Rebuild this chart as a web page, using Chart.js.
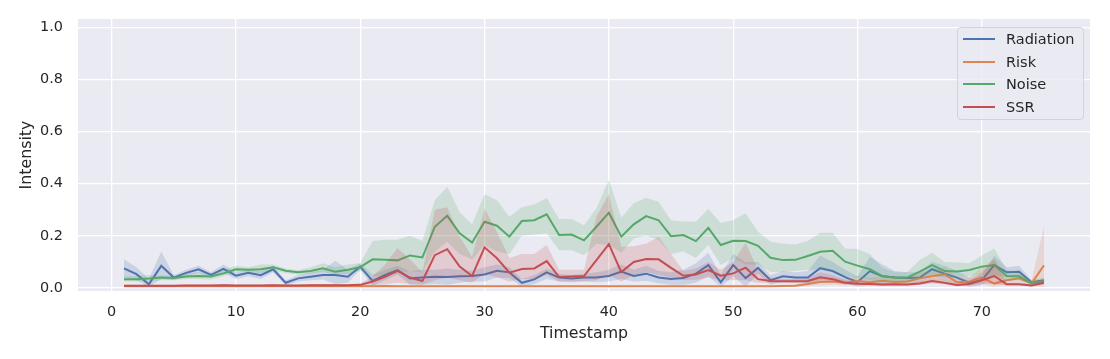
<!DOCTYPE html>
<html>
<head>
<meta charset="utf-8">
<script src="https://cdn.jsdelivr.net/npm/chart.js@4.4.1/dist/chart.umd.min.js"></script>
<style>
    body { margin: 0; background: #ffffff; }
    #wrap { position: relative; width: 1110px; height: 359px; }
    #legend {
        position: absolute;
        left: 957px;
        top: 27px;
        width: 127px;
        height: 93px;
        box-sizing: border-box;
        border: 1px solid #d2d2d8;
        border-radius: 4px;
        background: rgba(234, 234, 242, 0.8);
        font-family: "DejaVu Sans", sans-serif;
        font-size: 14.5px;
        color: #262626;
    }
    .item { position: absolute; left: 0; height: 20px; line-height: 20px; }
    .swatch { position: absolute; left: 5px; top: 9px; width: 32px; height: 2px; }
    .label { position: absolute; left: 48px; top: 0; white-space: nowrap; }
</style>
</head>
<body>
<div id="wrap">
    <canvas id="chart" width="1110" height="359"></canvas>
    <div id="legend"></div>
</div>
<script>
const timestamps = [
    1, 2, 3, 4, 5, 6, 7, 8, 9, 10, 11, 12, 13, 14, 15, 16, 17, 18, 19, 20,
    21, 22, 23, 24, 25, 26, 27, 28, 29, 30, 31, 32, 33, 34, 35, 36, 37, 38, 39, 40,
    41, 42, 43, 44, 45, 46, 47, 48, 49, 50, 51, 52, 53, 54, 55, 56, 57, 58, 59, 60,
    61, 62, 63, 64, 65, 66, 67, 68, 69, 70, 71, 72, 73, 74, 75,
];

const radiation = [
    0.075, 0.053, 0.014, 0.085, 0.040, 0.058, 0.072, 0.050, 0.073, 0.047,
    0.058, 0.049, 0.072, 0.020, 0.037, 0.043, 0.050, 0.050, 0.043, 0.082,
    0.027, 0.050, 0.069, 0.037, 0.040, 0.043, 0.042, 0.045, 0.046, 0.052,
    0.066, 0.060, 0.020, 0.033, 0.060, 0.040, 0.036, 0.040, 0.040, 0.046,
    0.063, 0.046, 0.055, 0.040, 0.035, 0.038, 0.055, 0.088, 0.022, 0.088,
    0.038, 0.077, 0.030, 0.045, 0.040, 0.040, 0.076, 0.065, 0.042, 0.023,
    0.065, 0.045, 0.040, 0.038, 0.040, 0.072, 0.055, 0.040, 0.020, 0.030,
    0.088, 0.060, 0.062, 0.022, 0.030,
];
const radiationLow = [
    0.040, 0.030, 0.004, 0.035, 0.030, 0.045, 0.058, 0.040, 0.058, 0.035,
    0.045, 0.035, 0.060, 0.010, 0.025, 0.030, 0.033, 0.015, 0.020, 0.070,
    0.008, 0.030, 0.052, 0.012, 0.012, 0.015, 0.012, 0.020, 0.025, 0.025,
    0.040, 0.038, 0.005, 0.015, 0.035, 0.025, 0.022, 0.025, 0.022, 0.025,
    0.035, 0.025, 0.028, 0.018, 0.012, 0.012, 0.020, 0.045, 0.005, 0.045,
    0.005, 0.055, 0.012, 0.025, 0.022, 0.018, 0.030, 0.035, 0.018, 0.005,
    0.012, 0.010, 0.018, 0.020, 0.022, 0.045, 0.028, 0.020, 0.005, 0.010,
    0.050, 0.040, 0.040, 0.015, 0.020,
];
const radiationHigh = [
    0.110, 0.080, 0.035, 0.140, 0.050, 0.070, 0.085, 0.060, 0.090, 0.060,
    0.070, 0.065, 0.085, 0.030, 0.050, 0.060, 0.070, 0.105, 0.070, 0.095,
    0.050, 0.070, 0.085, 0.065, 0.070, 0.070, 0.075, 0.070, 0.065, 0.080,
    0.090, 0.080, 0.035, 0.050, 0.075, 0.055, 0.050, 0.055, 0.060, 0.070,
    0.090, 0.070, 0.085, 0.065, 0.060, 0.070, 0.095, 0.135, 0.050, 0.130,
    0.100, 0.100, 0.050, 0.065, 0.060, 0.065, 0.125, 0.100, 0.070, 0.045,
    0.120, 0.090, 0.065, 0.060, 0.060, 0.100, 0.085, 0.065, 0.040, 0.050,
    0.125, 0.080, 0.085, 0.030, 0.040,
];

const risk = [
    0.007, 0.007, 0.007, 0.007, 0.007, 0.007, 0.007, 0.007, 0.008, 0.007,
    0.007, 0.007, 0.007, 0.007, 0.007, 0.007, 0.008, 0.007, 0.007, 0.007,
    0.007, 0.008, 0.007, 0.007, 0.007, 0.007, 0.007, 0.007, 0.007, 0.007,
    0.007, 0.007, 0.007, 0.007, 0.007, 0.007, 0.007, 0.007, 0.007, 0.007,
    0.007, 0.007, 0.007, 0.007, 0.007, 0.007, 0.007, 0.007, 0.007, 0.007,
    0.007, 0.007, 0.007, 0.008, 0.009, 0.015, 0.023, 0.025, 0.020, 0.027,
    0.022, 0.028, 0.023, 0.025, 0.037, 0.045, 0.053, 0.022, 0.025, 0.040,
    0.017, 0.030, 0.037, 0.018, 0.087,
];
const riskLow = [
    0.004, 0.004, 0.004, 0.004, 0.004, 0.004, 0.004, 0.004, 0.004, 0.004,
    0.004, 0.004, 0.004, 0.004, 0.004, 0.004, 0.004, 0.004, 0.004, 0.004,
    0.004, 0.004, 0.004, 0.004, 0.004, 0.004, 0.004, 0.004, 0.004, 0.004,
    0.004, 0.004, 0.004, 0.004, 0.004, 0.004, 0.004, 0.004, 0.004, 0.004,
    0.004, 0.004, 0.004, 0.004, 0.004, 0.004, 0.004, 0.004, 0.004, 0.004,
    0.004, 0.004, 0.004, 0.004, 0.005, 0.008, 0.010, 0.012, 0.010, 0.012,
    0.010, 0.013, 0.010, 0.012, 0.018, 0.025, 0.030, 0.010, 0.012, 0.015,
    0.005, 0.012, 0.020, 0.008, 0.005,
];
const riskHigh = [
    0.010, 0.010, 0.010, 0.010, 0.010, 0.010, 0.010, 0.010, 0.012, 0.010,
    0.010, 0.010, 0.010, 0.010, 0.010, 0.010, 0.012, 0.010, 0.010, 0.010,
    0.010, 0.013, 0.010, 0.010, 0.010, 0.010, 0.010, 0.010, 0.010, 0.010,
    0.010, 0.010, 0.010, 0.010, 0.010, 0.010, 0.010, 0.010, 0.010, 0.010,
    0.010, 0.010, 0.010, 0.010, 0.010, 0.010, 0.010, 0.010, 0.010, 0.010,
    0.010, 0.010, 0.010, 0.012, 0.014, 0.025, 0.040, 0.040, 0.035, 0.045,
    0.040, 0.045, 0.040, 0.040, 0.060, 0.065, 0.080, 0.040, 0.040, 0.080,
    0.110, 0.050, 0.055, 0.030, 0.237,
];

const noise = [
    0.034, 0.034, 0.036, 0.040, 0.038, 0.044, 0.046, 0.044, 0.056, 0.072,
    0.070, 0.072, 0.080, 0.066, 0.060, 0.065, 0.076, 0.062, 0.070, 0.080,
    0.110, 0.108, 0.106, 0.125, 0.117, 0.235, 0.277, 0.210, 0.174, 0.254,
    0.239, 0.197, 0.257, 0.260, 0.283, 0.203, 0.205, 0.183, 0.235, 0.289,
    0.197, 0.244, 0.276, 0.260, 0.199, 0.203, 0.180, 0.231, 0.165, 0.181,
    0.180, 0.162, 0.116, 0.107, 0.108, 0.123, 0.139, 0.143, 0.101, 0.086,
    0.072, 0.046, 0.040, 0.040, 0.063, 0.088, 0.065, 0.063, 0.069, 0.082,
    0.088, 0.046, 0.045, 0.018, 0.027,
];
const noiseLow = [
    0.025, 0.025, 0.028, 0.030, 0.030, 0.035, 0.035, 0.033, 0.045, 0.060,
    0.060, 0.058, 0.068, 0.057, 0.052, 0.055, 0.062, 0.050, 0.055, 0.065,
    0.045, 0.050, 0.055, 0.065, 0.060, 0.139, 0.177, 0.130, 0.110, 0.165,
    0.140, 0.130, 0.200, 0.205, 0.210, 0.145, 0.145, 0.126, 0.170, 0.165,
    0.135, 0.190, 0.200, 0.185, 0.130, 0.140, 0.115, 0.165, 0.088, 0.115,
    0.090, 0.090, 0.060, 0.062, 0.065, 0.070, 0.070, 0.065, 0.045, 0.040,
    0.030, 0.025, 0.025, 0.025, 0.035, 0.050, 0.040, 0.040, 0.045, 0.050,
    0.040, 0.028, 0.030, 0.012, 0.020,
];
const noiseHigh = [
    0.045, 0.045, 0.050, 0.048, 0.045, 0.055, 0.060, 0.055, 0.070, 0.085,
    0.080, 0.090, 0.090, 0.075, 0.068, 0.080, 0.095, 0.080, 0.090, 0.095,
    0.180, 0.185, 0.185, 0.200, 0.180, 0.337, 0.388, 0.292, 0.245, 0.360,
    0.337, 0.273, 0.310, 0.320, 0.345, 0.265, 0.265, 0.241, 0.306, 0.414,
    0.270, 0.325, 0.346, 0.331, 0.260, 0.255, 0.255, 0.303, 0.249, 0.260,
    0.287, 0.216, 0.177, 0.170, 0.167, 0.180, 0.212, 0.212, 0.152, 0.150,
    0.130, 0.077, 0.060, 0.060, 0.107, 0.135, 0.100, 0.098, 0.095, 0.125,
    0.152, 0.070, 0.060, 0.022, 0.032,
];

const ssr = [
    0.009, 0.009, 0.009, 0.009, 0.009, 0.010, 0.010, 0.010, 0.011, 0.010,
    0.010, 0.010, 0.011, 0.010, 0.010, 0.011, 0.011, 0.011, 0.011, 0.012,
    0.025, 0.043, 0.066, 0.040, 0.027, 0.126, 0.149, 0.082, 0.046, 0.156,
    0.114, 0.059, 0.073, 0.075, 0.103, 0.042, 0.044, 0.046, 0.107, 0.168,
    0.061, 0.100, 0.111, 0.110, 0.077, 0.047, 0.052, 0.069, 0.047, 0.056,
    0.078, 0.034, 0.027, 0.026, 0.026, 0.027, 0.041, 0.034, 0.020, 0.016,
    0.015, 0.013, 0.014, 0.013, 0.017, 0.027, 0.020, 0.012, 0.015, 0.030,
    0.046, 0.014, 0.014, 0.010, 0.020,
];
const ssrLow = [
    0.006, 0.006, 0.006, 0.006, 0.006, 0.007, 0.007, 0.007, 0.007, 0.007,
    0.007, 0.007, 0.007, 0.007, 0.007, 0.007, 0.007, 0.007, 0.007, 0.008,
    0.010, 0.015, 0.020, 0.015, 0.012, 0.030, 0.040, 0.030, 0.020, 0.055,
    0.040, 0.025, 0.035, 0.035, 0.050, 0.025, 0.025, 0.027, 0.030, 0.050,
    0.025, 0.050, 0.060, 0.050, 0.040, 0.030, 0.032, 0.040, 0.030, 0.030,
    0.030, 0.020, 0.018, 0.018, 0.018, 0.018, 0.025, 0.022, 0.013, 0.010,
    0.010, 0.008, 0.010, 0.009, 0.012, 0.017, 0.013, 0.007, 0.009, 0.015,
    0.015, 0.009, 0.009, 0.006, 0.012,
];
const ssrHigh = [
    0.012, 0.012, 0.012, 0.012, 0.012, 0.013, 0.013, 0.013, 0.015, 0.013,
    0.013, 0.013, 0.015, 0.013, 0.013, 0.015, 0.015, 0.015, 0.015, 0.016,
    0.045, 0.090, 0.153, 0.110, 0.060, 0.300, 0.310, 0.197, 0.120, 0.305,
    0.216, 0.115, 0.130, 0.130, 0.165, 0.070, 0.070, 0.070, 0.273, 0.360,
    0.158, 0.160, 0.170, 0.197, 0.130, 0.065, 0.075, 0.100, 0.070, 0.100,
    0.174, 0.070, 0.040, 0.035, 0.035, 0.037, 0.060, 0.050, 0.030, 0.025,
    0.022, 0.020, 0.020, 0.020, 0.025, 0.040, 0.030, 0.020, 0.025, 0.060,
    0.110, 0.020, 0.020, 0.015, 0.030,
];

const xTicks = [0, 10, 20, 30, 40, 50, 60, 70];
const yTicks = [0, 0.2, 0.4, 0.6, 0.8, 1.0];

const series = [
    { name: "Radiation", color: "#4c72b0", band: "rgba(76, 114, 176, 0.2)", mean: radiation, low: radiationLow, high: radiationHigh },
    { name: "Risk", color: "#dd8452", band: "rgba(221, 132, 82, 0.2)", mean: risk, low: riskLow, high: riskHigh },
    { name: "Noise", color: "#55a868", band: "rgba(85, 168, 104, 0.2)", mean: noise, low: noiseLow, high: noiseHigh },
    { name: "SSR", color: "#c44e52", band: "rgba(196, 78, 82, 0.2)", mean: ssr, low: ssrLow, high: ssrHigh },
];

const points = (values) => timestamps.map((t, i) => ({ x: t, y: values[i] }));

// seaborn draws band then line per series, first series at the bottom
const datasets = [];
series.forEach((s, k) => {
    const base = (series.length - k) * 3;
    datasets.push({
        label: s.name + " low",
        data: points(s.low),
        borderColor: "rgba(0,0,0,0)",
        borderWidth: 0,
        pointRadius: 0,
        fill: false,
        order: base,
    });
    datasets.push({
        label: s.name + " high",
        data: points(s.high),
        borderColor: "rgba(0,0,0,0)",
        borderWidth: 0,
        backgroundColor: s.band,
        pointRadius: 0,
        fill: "-1",
        order: base - 1,
    });
    datasets.push({
        label: s.name,
        data: points(s.mean),
        borderColor: s.color,
        borderWidth: 2,
        pointRadius: 0,
        fill: false,
        order: base - 2,
    });
});

const plotBackground = {
    id: "plotBackground",
    beforeDraw(chart) {
        const { ctx, chartArea } = chart;
        ctx.save();
        ctx.fillStyle = "#eaeaf2";
        ctx.fillRect(chartArea.left, chartArea.top, chartArea.right - chartArea.left, chartArea.bottom - chartArea.top);
        ctx.restore();
    },
};

const tickFont = { family: "DejaVu Sans", size: 14.4 };
const titleFont = { family: "DejaVu Sans", size: 15.8 };

new Chart(document.getElementById("chart"), {
    type: "line",
    data: { datasets },
    plugins: [plotBackground],
    options: {
        responsive: false,
        animation: false,
        layout: { padding: { left: 0, right: 20, top: 19, bottom: 0 } },
        elements: { line: { tension: 0 } },
        plugins: {
            legend: { display: false },
            tooltip: { enabled: false },
        },
        scales: {
            x: {
                type: "linear",
                min: -2.7,
                max: 78.7,
                afterBuildTicks: (scale) => {
                    scale.ticks = xTicks.map((v) => ({ value: v }));
                },
                afterFit: (scale) => {
                    scale.height = 68;
                },
                grid: { color: "#ffffff", lineWidth: 1.3, drawTicks: false },
                border: { display: false },
                ticks: { color: "#262626", font: tickFont, padding: 13, maxRotation: 0 },
                title: {
                    display: true,
                    text: "Timestamp",
                    color: "#262626",
                    font: titleFont,
                    padding: { top: 0, bottom: 16 },
                },
            },
            y: {
                type: "linear",
                min: -0.0115,
                max: 1.032,
                afterBuildTicks: (scale) => {
                    scale.ticks = yTicks.map((v) => ({ value: v }));
                },
                afterFit: (scale) => {
                    scale.width = 78;
                    scale.paddingTop = 0;
                    scale.paddingBottom = 0;
                },
                grid: { color: "#ffffff", lineWidth: 1.3, drawTicks: false },
                border: { display: false },
                ticks: {
                    color: "#262626",
                    font: tickFont,
                    padding: 15,
                    callback: (v) => v.toFixed(1),
                },
                title: {
                    display: true,
                    text: "Intensity",
                    color: "#262626",
                    font: titleFont,
                    padding: { top: 17, bottom: 0 },
                },
            },
        },
    },
});

const legend = document.getElementById("legend");
series.forEach((s, i) => {
    const item = document.createElement("div");
    item.className = "item";
    item.style.top = (1 + i * 22.7) + "px";
    item.innerHTML = `<span class="swatch" style="background:${s.color}"></span><span class="label">${s.name}</span>`;
    legend.appendChild(item);
});
</script>
</body>
</html>
